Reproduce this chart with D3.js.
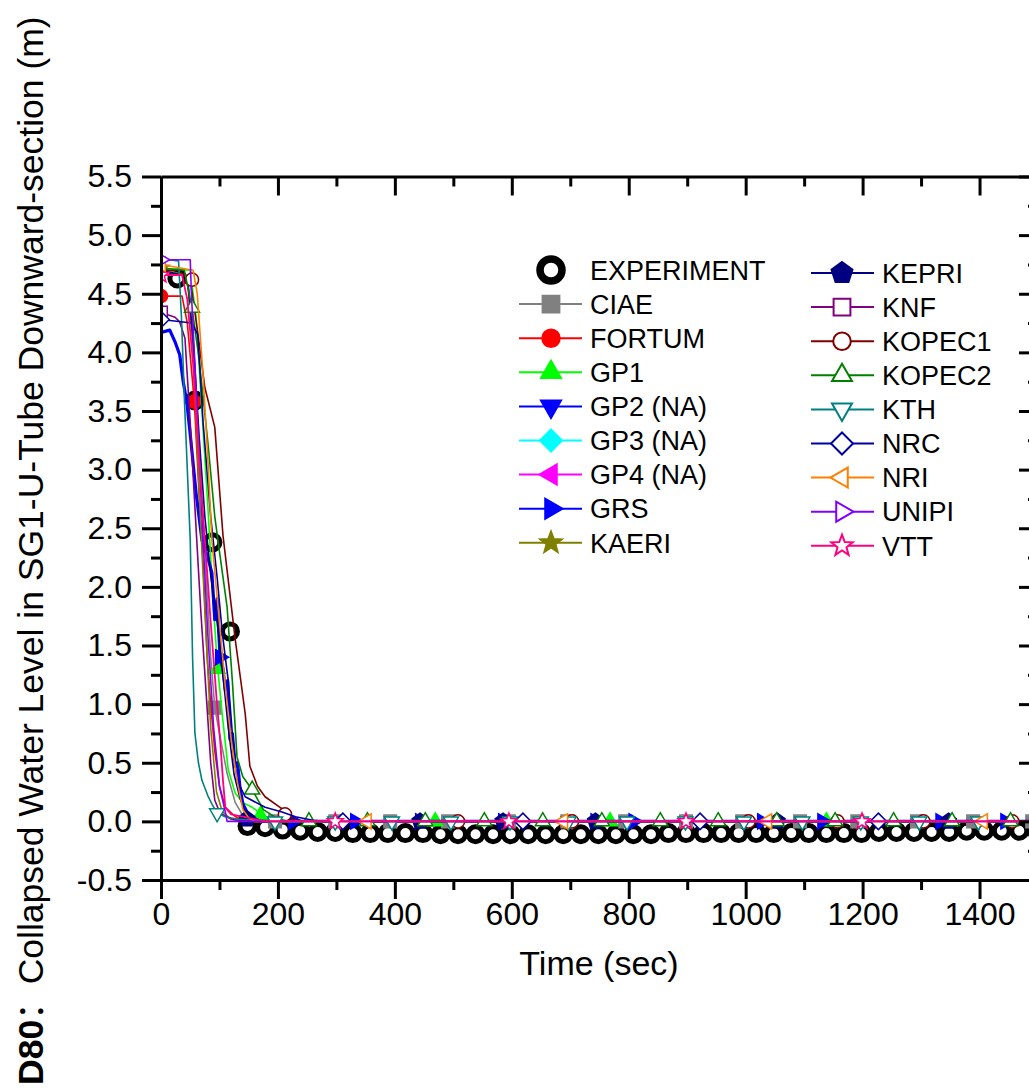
<!DOCTYPE html>
<html><head><meta charset="utf-8">
<script src="https://cdn.jsdelivr.net/npm/d3@7"></script>
<style>body{margin:0;background:#fff}svg{display:block}</style>
</head><body><svg id="c" width="1029" height="1089"></svg>
<script>
// ---------------- DATA ----------------
const X_MAJOR = [0,200,400,600,800,1000,1200,1400];
const X_MINOR = [100,300,500,700,900,1100,1300];
const Y_MAJOR = [-0.5,0.0,0.5,1.0,1.5,2.0,2.5,3.0,3.5,4.0,4.5,5.0,5.5];
const Y_MINOR = [-0.25,0.25,0.75,1.25,1.75,2.25,2.75,3.25,3.75,4.25,4.75,5.25];

const EXP_T = [28,58,88,118,148,178,208,238,268,298,328,358,388,418,448,478,508,538,568,598,628,658,688,718,748,778,808,838,868,898,928,958,988,1018,1048,1078,1108,1138,1168,1198,1228,1258,1288,1318,1348,1378,1408,1438,1468,1498];
const EXP_V = [4.63,3.59,2.38,1.62,-0.04,-0.05,-0.07,-0.08,-0.09,-0.09,-0.10,-0.10,-0.10,-0.10,-0.10,-0.11,-0.11,-0.11,-0.11,-0.11,-0.11,-0.11,-0.11,-0.11,-0.11,-0.11,-0.11,-0.11,-0.10,-0.10,-0.10,-0.10,-0.10,-0.10,-0.10,-0.10,-0.10,-0.10,-0.10,-0.10,-0.09,-0.09,-0.09,-0.09,-0.09,-0.08,-0.08,-0.08,-0.08,-0.08];

const CIAE_LINE = [[0,4.7],[45,4.65],[55,4.1],[65,3.2],[75,2.3],[85,1.4],[92,0.97],[100,0.75],[113,0.41],[127,0.16],[140,0.05],[160,0],[1500,0]];
const CIAE_MARKS = [[92,0.97],[195,0],[298,0],[392,0],[491,0],[595,0],[695,0],[794,0],[898,0],[994,0],[1093,0],[1191,0],[1293,0],[1389,0],[1490,0]];
const FORTUM_LINE = [[0,4.48],[36,4.48],[45,4.25],[57,3.58],[65,2.8],[72,2.2],[79,1.4],[85,1.0],[92,0.6],[100,0.3],[110,0.12],[125,0.05],[140,0],[1500,0]];
const FORTUM_MARKS = [[0,4.48],[57,3.58]];
const GP1_LINE = [[0,4.72],[50,4.7],[60,4.3],[70,3.5],[80,2.7],[90,1.8],[97,1.3],[105,0.9],[115,0.44],[127,0.24],[140,0.16],[156,0.12],[178,0.04],[200,0],[1500,0]];
const GP1_MARKS = [[97,1.3],[170,0.05],[469,0],[768,0],[1138,0]];
const GRS_LINE = [[0,4.17],[15,4.19],[24,4.09],[32,3.98],[38,3.75],[44,3.58],[50,3.3],[60,2.8],[70,2.4],[80,2.25],[87,2.12],[92,1.72],[96,1.9],[101,1.40],[106,1.3],[110,1.12],[114,1.2],[118,0.7],[122,0.75],[127,0.47],[131,0.5],[135,0.29],[140,0.15],[150,0.05],[170,0],[1500,0]];
const GRS_MARKS = [[101,1.40],[226,0],[332,0],[443,0],[585,0],[743,0],[808,0],[1028,0],[1131,0],[1333,0],[1444,0]];
const KAERI_LINE = [[0,4.72],[45,4.65],[55,4.0],[62,3.2],[70,2.3],[78,1.5],[85,0.8],[95,0.25],[105,0.08],[120,0.02],[135,0],[1500,0]];
const KAERI_MARKS = [[0,4.72]];
const KEPRI_LINE = [[0,4.7],[45,4.65],[55,4.1],[65,3.3],[75,2.6],[85,2.1],[96,1.7],[105,1.3],[115,0.8],[125,0.4],[135,0.2],[147,0.04],[160,0],[1500,0]];
const KEPRI_MARKS = [[147,0.02],[443,0],[585,0],[743,0],[1054,0],[1347,0]];
const KNF_LINE = [[0,4.34],[24,4.3],[32,4.26],[41,4.12],[50,3.4],[60,2.5],[68,1.8],[75,1.26],[85,0.5],[92,0.18],[101,0.07],[120,0.02],[150,0],[1500,0]];
const KNF_MARKS = [[0,4.34]];
const KOPEC1_LINE = [[0,4.7],[30,4.7],[50,4.62],[62,4.2],[75,3.7],[92,3.36],[106,2.44],[127,1.55],[144,0.92],[152,0.47],[165,0.3],[178,0.21],[209,0.1],[225,0.02],[240,0],[1500,0]];
const KOPEC1_MARKS = [[53,4.62],[212,0.06],[508,0],[703,0],[1005,0],[1157,0],[1304,0],[1456,0]];
const KOPEC2_LINE = [[0,4.72],[40,4.7],[53,4.38],[65,3.95],[80,3.24],[92,2.6],[100,2.3],[113,1.83],[122,1.2],[130,0.55],[140,0.38],[156,0.27],[175,0.1],[200,0.02],[220,0],[1500,0]];
const KOPEC2_MARKS = [[53,4.38],[156,0.27],[253,0],[353,0],[452,0],[553,0],[653,0],[754,0],[854,0],[953,0],[1053,0],[1153,0],[1253,0],[1353,0],[1453,0]];
const KTH_LINE = [[0,4.8],[30,4.78],[35,4.3],[40,3.6],[45,3.0],[50,2.4],[54,1.4],[58,0.75],[64,0.5],[70,0.35],[80,0.22],[87,0.15],[96,0.07],[110,0.04],[130,0.02],[195,0],[1500,0]];
const KTH_MARKS = [[96,0.07],[195,0],[298,0],[395,0],[496,0],[597,0],[697,0],[797,0],[897,0],[997,0],[1097,0],[1197,0],[1297,0],[1398,0]];
const NRC_LINE = [[0,4.28],[53,4.25],[63,4.15],[72,3.4],[85,2.6],[96,2.08],[105,1.6],[115,1.2],[122,0.75],[130,0.35],[144,0.21],[178,0.12],[207,0.08],[230,0.04],[260,0.01],[280,0],[1500,0]];
const NRC_MARKS = [[0,4.28],[311,0],[619,0],[922,0],[1227,0]];
const NRI_LINE = [[0,4.75],[55,4.7],[62,4.5],[72,3.8],[80,3.1],[87,2.4],[100,1.7],[110,1.15],[120,0.7],[130,0.35],[140,0.1],[150,0.03],[160,0],[1500,0]];
const NRI_MARKS = [[0,4.75],[352,0],[688,0],[1037,0],[1406,0]];
const UNIPI_LINE = [[0,4.79],[50,4.79],[52,4.5],[60,3.7],[70,2.6],[80,1.6],[90,0.8],[100,0.3],[110,0.08],[113,0],[1500,0]];
const UNIPI_MARKS = [[0,4.79]];
const VTT_LINE = [[0,4.66],[36,4.66],[45,4.45],[55,3.9],[65,3.1],[75,2.4],[85,1.7],[95,1.05],[101,0.7],[106,0.35],[110,0.12],[120,0.06],[140,0.04],[160,0.02],[180,0],[1500,0]];
const VTT_MARKS = [[0,4.66],[298,0],[595,0],[898,0],[1199,0],[1500,0]];

// ---------------- STYLE TABLE ----------------
const SERIES = [
  {name:"CIAE", color:"#808080", shape:"square", filled:true, lw:1.6, line:CIAE_LINE, marks:CIAE_MARKS},
  {name:"FORTUM", color:"#ff0000", shape:"circle", filled:true, lw:1.6, line:FORTUM_LINE, marks:FORTUM_MARKS},
  {name:"GP1", color:"#00ff00", shape:"up", filled:true, lw:1.6, line:GP1_LINE, marks:GP1_MARKS},
  {name:"GP2 (NA)", color:"#0000ff", shape:"down", filled:true, lw:1.6, line:null, marks:[]},
  {name:"GP3 (NA)", color:"#00ffff", shape:"diamond", filled:true, lw:1.6, line:null, marks:[]},
  {name:"GP4 (NA)", color:"#ff00ff", shape:"left", filled:true, lw:1.6, line:null, marks:[]},
  {name:"GRS", color:"#0000ff", shape:"right", filled:true, lw:3.2, line:GRS_LINE, marks:GRS_MARKS},
  {name:"KAERI", color:"#808000", shape:"star", filled:true, lw:1.6, line:KAERI_LINE, marks:KAERI_MARKS},
  {name:"KEPRI", color:"#000080", shape:"pentagon", filled:true, lw:1.6, line:KEPRI_LINE, marks:KEPRI_MARKS},
  {name:"KNF", color:"#800080", shape:"square", filled:false, lw:1.6, line:KNF_LINE, marks:KNF_MARKS},
  {name:"KOPEC1", color:"#800000", shape:"circle", filled:false, lw:1.6, line:KOPEC1_LINE, marks:KOPEC1_MARKS},
  {name:"KOPEC2", color:"#008000", shape:"up", filled:false, lw:1.6, line:KOPEC2_LINE, marks:KOPEC2_MARKS},
  {name:"KTH", color:"#008080", shape:"down", filled:false, lw:1.6, line:KTH_LINE, marks:KTH_MARKS},
  {name:"NRC", color:"#0000a0", shape:"diamond", filled:false, lw:1.6, line:NRC_LINE, marks:NRC_MARKS},
  {name:"NRI", color:"#ff8000", shape:"left", filled:false, lw:1.6, line:NRI_LINE, marks:NRI_MARKS},
  {name:"UNIPI", color:"#8000ff", shape:"right", filled:false, lw:1.6, line:UNIPI_LINE, marks:UNIPI_MARKS},
  {name:"VTT", color:"#ff0080", shape:"star", filled:false, lw:1.8, line:VTT_LINE, marks:VTT_MARKS}
];

// ---------------- DRAW ----------------
const FONT = "'Liberation Sans', Arial, Helvetica, 'Noto Sans CJK SC', sans-serif";
const svg = d3.select("#c");
const L = 161, R = 1038, T = 176.5, B = 880;
const xs = d3.scaleLinear().domain([0,1500]).range([L,R]);
const ys = d3.scaleLinear().domain([-0.5,5.5]).range([B,T]);

function rot(pts, deg){
  const a = deg*Math.PI/180, c=Math.cos(a), s=Math.sin(a);
  return pts.map(([x,y])=>[x*c-y*s, x*s+y*c]);
}
function poly(pts){ return "M"+pts.map(p=>p[0].toFixed(2)+","+p[1].toFixed(2)).join("L")+"Z"; }
function shapePath(shape, s){
  if(shape==="square"){ const a=s*0.42; return poly([[-a,-a],[a,-a],[a,a],[-a,a]]); }
  if(shape==="circle"){ const r=s*0.44; return `M${r},0A${r},${r} 0 1,1 ${-r},0A${r},${r} 0 1,1 ${r},0Z`; }
  const tri = [[0,-0.577*s],[0.5*s,0.289*s],[-0.5*s,0.289*s]];
  if(shape==="up") return poly(tri);
  if(shape==="down") return poly(rot(tri,180));
  if(shape==="left") return poly(rot(tri,-90));
  if(shape==="right") return poly(rot(tri,90));
  if(shape==="diamond"){ const h=s*0.55; return poly([[0,-h],[h,0],[0,h],[-h,0]]); }
  if(shape==="star"){
    const Ro=s*0.56, Ri=Ro*0.42, pts=[];
    for(let k=0;k<10;k++){ const r=k%2?Ri:Ro, a=(-90+36*k)*Math.PI/180; pts.push([r*Math.cos(a), r*Math.sin(a)]); }
    return poly(pts);
  }
  if(shape==="pentagon"){
    const Rr=s*0.55, pts=[];
    for(let k=0;k<5;k++){ const a=(-90+72*k)*Math.PI/180; pts.push([Rr*Math.cos(a), Rr*Math.sin(a)]); }
    return poly(pts);
  }
}

svg.append("defs").append("clipPath").attr("id","clip")
  .append("rect").attr("x",L).attr("y",T).attr("width",R-L).attr("height",B-T);

const plot = svg.append("g").attr("clip-path","url(#clip)");

// experiment (drawn first)
plot.append("g").selectAll("circle").data(EXP_T.map((t,i)=>[t,EXP_V[i]])).join("circle")
  .attr("cx",d=>xs(d[0])).attr("cy",d=>ys(d[1])).attr("r",7.5)
  .attr("fill","none").attr("stroke","#000").attr("stroke-width",5);

const lineGen = d3.line().x(d=>xs(d[0])).y(d=>ys(d[1]));
SERIES.forEach(s=>{
  if(!s.line) return;
  const g = plot.append("g");
  g.append("path").attr("d",lineGen(s.line)).attr("fill","none")
    .attr("stroke",s.color).attr("stroke-width",s.lw).attr("stroke-linejoin","round");
  g.selectAll("path.m").data(s.marks).join("path").attr("class","m")
    .attr("transform",d=>`translate(${xs(d[0])},${ys(d[1])})`)
    .attr("d",shapePath(s.shape,15))
    .attr("fill",s.filled?s.color:"#fff").attr("stroke",s.color).attr("stroke-width",1.5);
});

// axes
function styleAxis(g){
  g.selectAll(".domain").attr("stroke","#000").attr("stroke-width",3);
  g.selectAll(".tick line").attr("stroke","#000").attr("stroke-width",3);
  g.selectAll("text").attr("font-family",FONT).attr("font-size",32).attr("fill","#000");
}
const yFmt = d => d3.format(".1f")(d).replace("\u2212","-");
// minor ticks
const mi = svg.append("g");
mi.append("g").attr("transform",`translate(${L},0)`).call(d3.axisLeft(ys).tickValues(Y_MINOR).tickSize(10).tickFormat("")).call(styleAxis).select(".domain").remove();
mi.append("g").attr("transform",`translate(${R},0)`).call(d3.axisLeft(ys).tickValues(Y_MINOR).tickSize(10).tickFormat("")).call(styleAxis).select(".domain").remove();
mi.append("g").attr("transform",`translate(0,${B})`).call(d3.axisBottom(xs).tickValues(X_MINOR).tickSize(10).tickFormat("")).call(styleAxis).select(".domain").remove();
mi.append("g").attr("transform",`translate(0,${T})`).call(d3.axisBottom(xs).tickValues(X_MINOR).tickSize(10).tickFormat("")).call(styleAxis).select(".domain").remove();

svg.append("g").attr("transform",`translate(${L},0)`)
  .call(d3.axisLeft(ys).tickValues(Y_MAJOR).tickSize(19).tickSizeOuter(0).tickPadding(10).tickFormat(yFmt))
  .call(styleAxis);
svg.append("g").attr("transform",`translate(${R},0)`)
  .call(d3.axisLeft(ys).tickValues(Y_MAJOR).tickSize(19).tickSizeOuter(0).tickFormat(""))
  .call(styleAxis);
svg.append("g").attr("transform",`translate(0,${B})`)
  .call(d3.axisBottom(xs).tickValues(X_MAJOR).tickSize(19).tickSizeOuter(0).tickPadding(3).tickFormat(d3.format("d")))
  .call(styleAxis);
svg.append("g").attr("transform",`translate(0,${T})`)
  .call(d3.axisBottom(xs).tickValues(X_MAJOR).tickSize(19).tickSizeOuter(0).tickFormat(""))
  .call(styleAxis);

// axis titles
svg.append("text").attr("x",599).attr("y",975).attr("text-anchor","middle")
  .attr("font-family",FONT).attr("font-size",34).text("Time (sec)");
const yt = svg.append("text").attr("transform","translate(43,1085) rotate(-90)")
  .attr("text-anchor","start").attr("font-family",FONT).attr("font-size",35.5);
yt.append("tspan").attr("font-weight","bold").text("D80");
yt.append("tspan").text("：Collapsed Water Level in SG1-U-Tube Downward-section (m)");

// legend
const leg = svg.append("g");
const col1 = [{name:"EXPERIMENT", exp:true}].concat(SERIES.slice(0,8));
const col2 = SERIES.slice(8);
function drawCol(items, x0, x1, xc, xt, y0, dy){
  items.forEach((s,i)=>{
    const y = y0 + i*dy;
    if(s.exp){
      leg.append("circle").attr("cx",xc).attr("cy",y).attr("r",11).attr("fill","none").attr("stroke","#000").attr("stroke-width",7.5);
    } else {
      leg.append("line").attr("x1",x0).attr("x2",x1).attr("y1",y).attr("y2",y).attr("stroke",s.color).attr("stroke-width",2);
      leg.append("path").attr("transform",`translate(${xc},${y})`).attr("d",shapePath(s.shape,20))
        .attr("fill",s.filled?s.color:"#fff").attr("stroke",s.color).attr("stroke-width",2);
    }
    leg.append("text").attr("x",xt).attr("y",y).attr("dy","0.36em").attr("font-family",FONT).attr("font-size",27).text(s.name);
  });
}
drawCol(col1, 519, 582, 551, 590, 270, 34.1);
drawCol(col2, 811, 874, 842, 882, 273, 34.1);
</script></body></html>
